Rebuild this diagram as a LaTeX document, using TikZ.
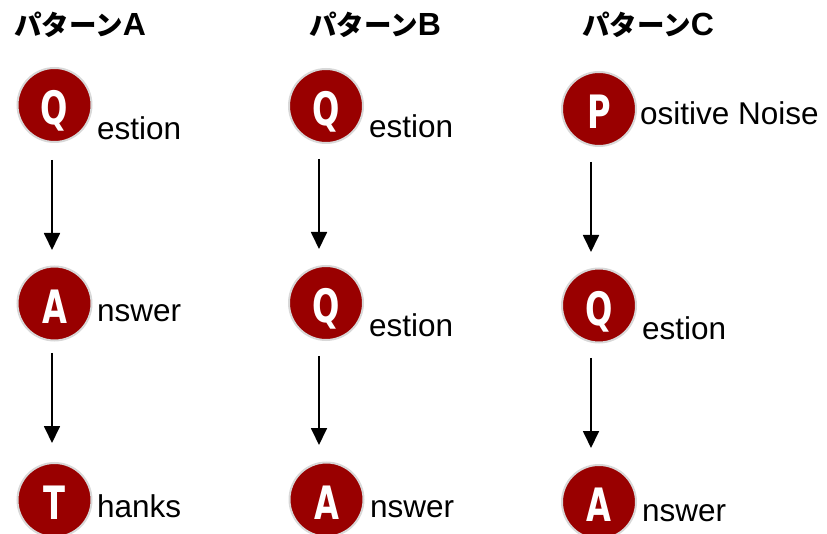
\documentclass[tikz,border=0pt]{standalone}
\usepackage{fontspec}
\usepackage{graphicx}
\setmainfont{Liberation Sans}
\newfontfamily\jpfont{Noto Sans CJK JP}
\newfontfamily\letterfont{DejaVu Sans}
\newfontfamily\titlelatin{Liberation Sans}
\usetikzlibrary{arrows.meta}
\definecolor{circred}{RGB}{153,0,0}
\definecolor{circgray}{RGB}{216,216,216}
\newcommand{\circletter}[1]{\scalebox{0.7}[1]{\letterfont\bfseries\fontsize{46}{46}\selectfont #1}}
\newcommand{\ttlletter}[1]{{\titlelatin\bfseries\fontsize{32}{32}\selectfont #1}}
\tikzset{
  circ/.style={circle, fill=circred, draw=circgray, line width=2pt, minimum size=74pt,
    inner sep=0pt, text=white, text height=39.5pt, text depth=0pt},
  lbl/.style={anchor=base west, inner sep=0pt, font=\fontsize{31.5}{36}\selectfont},
  ttl/.style={anchor=base west, inner sep=0pt, font=\jpfont\bfseries\fontsize{27.5}{30}\selectfont},
  arr/.style={line width=1.8pt, -{Triangle[width=16pt,length=17pt]}},
}
\begin{document}
\begin{tikzpicture}[x=1pt,y=-1pt]
\useasboundingbox (0,0) rectangle (827,534);
% titles
\node[ttl] (tA) at (14,36) {パターン\ttlletter{A}};
\node[ttl] (tB) at (309,36) {パターン\ttlletter{B}};
\node[ttl] (tC) at (582,36) {パターン\ttlletter{C}};
% column A
\node[circ] (a1) at (54.5,105) {\circletter{Q}};
\node[circ] (a2) at (54.5,303.5) {\circletter{A}};
\node[circ] (a3) at (54.5,500) {\circletter{T}};
\node[lbl] (la1) at (97,140) {estion};
\node[lbl] (la2) at (97,322) {nswer};
\node[lbl] (la3) at (97,517) {hanks};
\draw[arr] ([xshift=-2.5pt,yshift=-17pt]a1.south) -- ([xshift=-2.5pt,yshift=15.5pt]a2.north);
\draw[arr] ([xshift=-2.5pt,yshift=-11.5pt]a2.south) -- ([xshift=-2.5pt,yshift=19pt]a3.north);
% column B
\node[circ] (b1) at (326,106) {\circletter{Q}};
\node[circ] (b2) at (326,303) {\circletter{Q}};
\node[circ] (b3) at (326.5,499.5) {\circletter{A}};
\node[lbl] (lb1) at (369,138) {estion};
\node[lbl] (lb2) at (369,337) {estion};
\node[lbl] (lb3) at (370,517) {nswer};
\draw[arr] ([xshift=-7pt,yshift=-15pt]b1.south) -- ([xshift=-7pt,yshift=16pt]b2.north);
\draw[arr] ([xshift=-7pt,yshift=-15pt]b2.south) -- ([xshift=-7.5pt,yshift=16.5pt]b3.north);
% column C
\node[circ] (c1) at (599,109) {\circletter{P}};
\node[circ] (c2) at (599,305.5) {\circletter{Q}};
\node[circ] (c3) at (599,502) {\circletter{A}};
\node[lbl] (lc1) at (640,125) {ositive Noise};
\node[lbl] (lc2) at (642,340) {estion};
\node[lbl] (lc3) at (642,521) {nswer};
\draw[arr] ([xshift=-8pt,yshift=-15pt]c1.south) -- ([xshift=-8pt,yshift=15.5pt]c2.north);
\draw[arr] ([xshift=-8pt,yshift=-14.5pt]c2.south) -- ([xshift=-8pt,yshift=16pt]c3.north);
\end{tikzpicture}
\end{document}
